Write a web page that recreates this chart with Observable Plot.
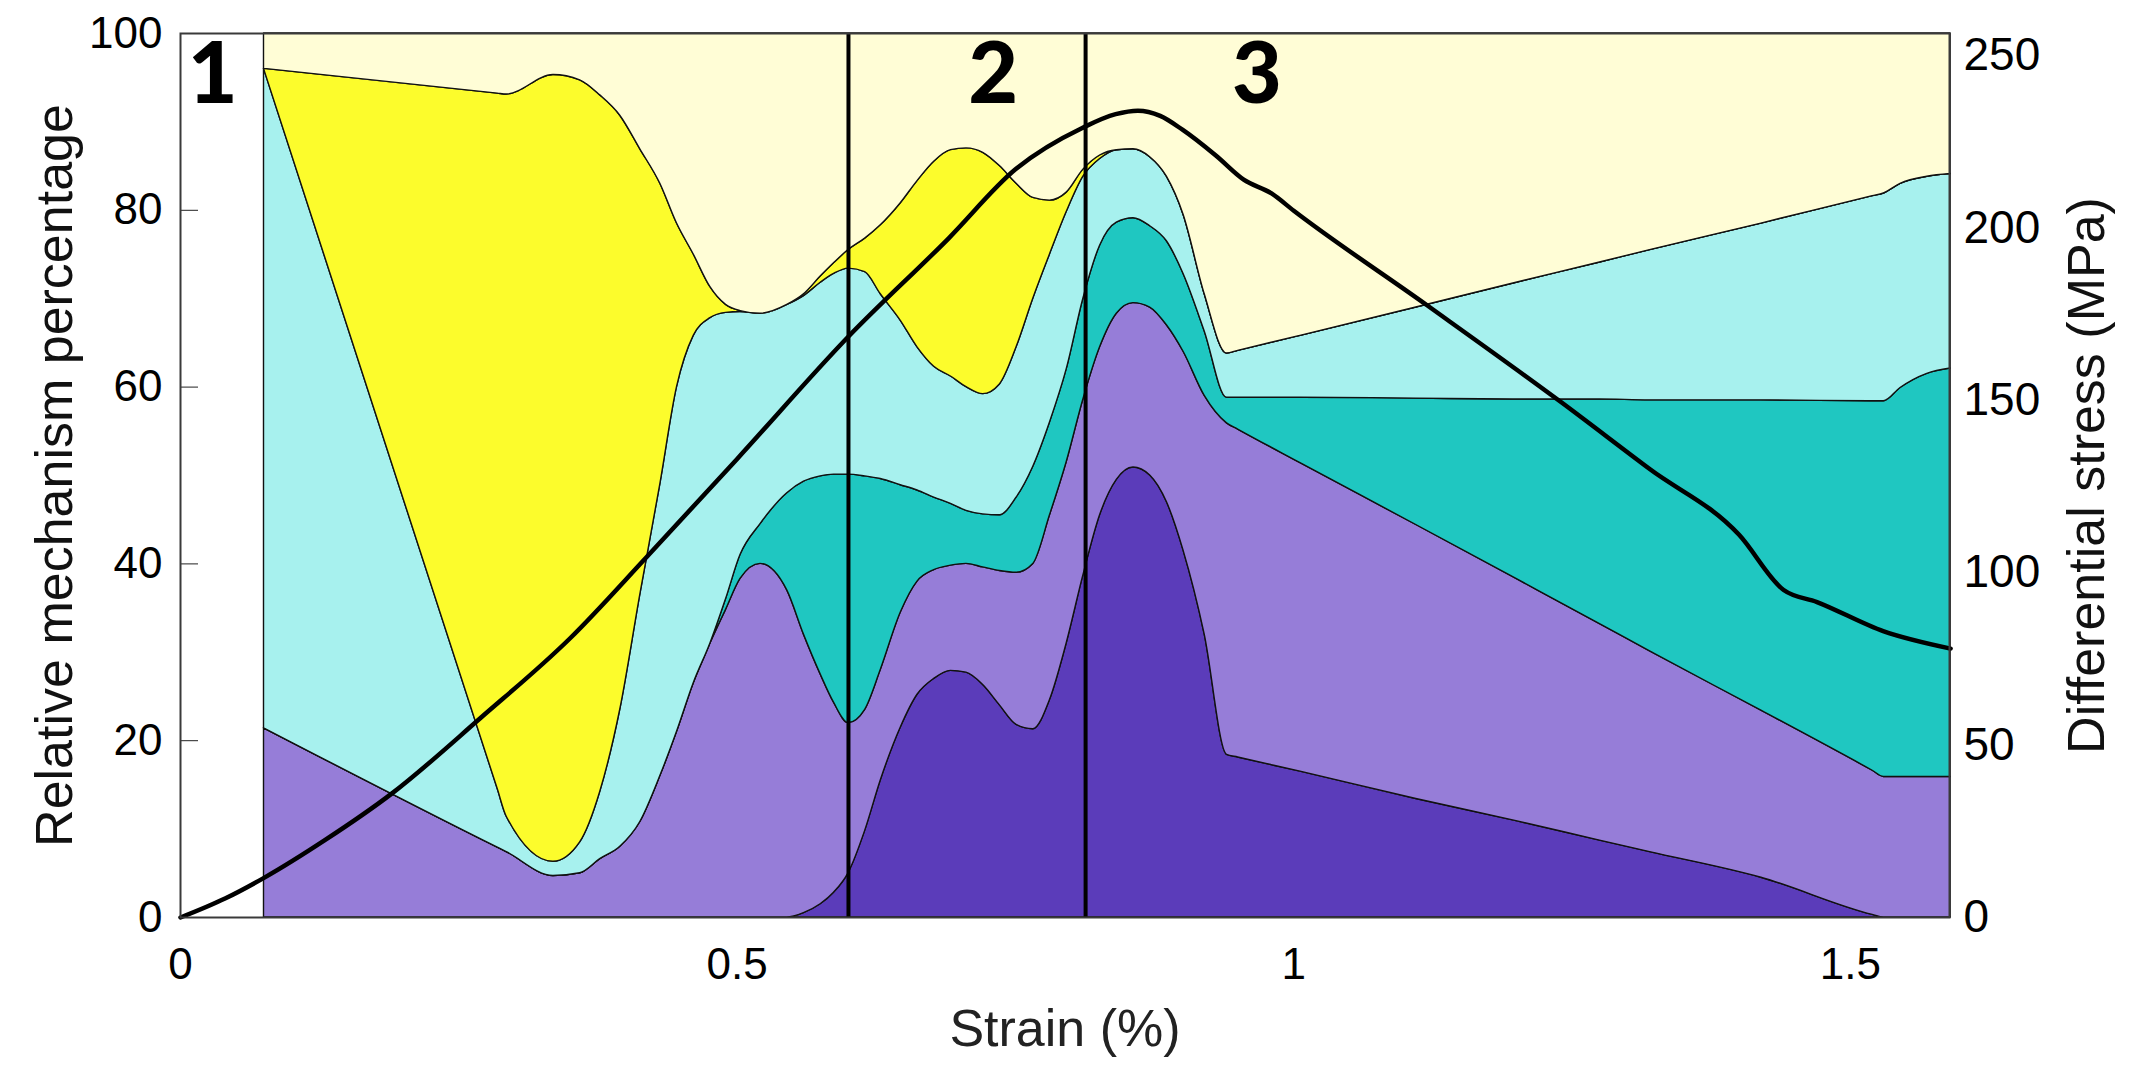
<!DOCTYPE html>
<html>
<head>
<meta charset="utf-8">
<script src="https://cdn.jsdelivr.net/npm/d3@7"></script>
<script src="https://cdn.jsdelivr.net/npm/@observablehq/plot@0.6"></script>
<style>
  html, body { margin: 0; padding: 0; background: #ffffff; }
  svg { display: block; }
</style>
</head>
<body>
<div id="chart"></div>
<script>
// ---- Data ----
const strain = [0.075, 0.285, 0.293, 0.335, 0.359, 0.377, 0.395, 0.413, 0.431, 0.446, 0.461, 0.476, 0.49, 0.503, 0.521, 0.545, 0.56, 0.575, 0.587, 0.6, 0.615, 0.629, 0.647, 0.662, 0.677, 0.692, 0.706, 0.721, 0.736, 0.751, 0.766, 0.781, 0.796, 0.811, 0.826, 0.841, 0.856, 0.871, 0.886, 0.901, 0.92, 0.94, 0.95, 1.006, 1.11, 1.2, 1.275, 1.32, 1.42, 1.52, 1.53, 1.545, 1.569, 1.59];

// cumulative upper boundary of each stacked layer (%), bottom to top
const topLayer1 = [0, 0, 0, 0, 0, 0, 0, 0, 0, 0, 0, 0, 0, 0, 0, 0, 0.5, 1.5, 2.8, 5.0, 9.8, 15.5, 21.5, 25.2, 27.0, 27.9, 27.7, 26.3, 24.0, 21.8, 21.3, 24.6, 31.0, 38.7, 45.5, 49.5, 50.9, 50.0, 47.0, 41.5, 32.0, 18.4, 18.1, 16.5, 13.4, 10.9, 8.7, 7.4, 4.5, 0.3, 0, 0, 0, 0];
const topLayer2 = [21.4, 7.9, 7.4, 4.7, 5.0, 6.6, 8.0, 10.8, 16.0, 21.0, 26.5, 31.0, 34.8, 38.3, 40.0, 37.0, 32.0, 27.5, 24.3, 22.0, 23.5, 28.0, 34.5, 38.0, 39.3, 39.8, 40.0, 39.6, 39.2, 39.0, 40.0, 45.5, 51.5, 58.6, 64.5, 68.3, 69.5, 69.0, 67.0, 64.0, 59.0, 55.9, 55.2, 51.4, 44.4, 38.3, 33.2, 30.1, 23.4, 16.6, 15.9, 15.9, 15.9, 15.9];
const topLayer3 = [21.4, 7.9, 7.4, 4.7, 5.0, 6.6, 8.0, 10.8, 16.0, 21.0, 26.5, 31.0, 36.0, 41.0, 44.5, 48.0, 49.3, 49.9, 50.1, 50.1, 49.9, 49.6, 48.9, 48.3, 47.5, 46.8, 46.0, 45.6, 45.5, 47.5, 51.0, 56.0, 62.0, 70.0, 76.0, 78.6, 79.1, 78.2, 76.5, 72.8, 66.3, 58.8, 58.8, 58.8, 58.7, 58.6, 58.6, 58.5, 58.5, 58.4, 58.4, 59.9, 61.5, 62.1];
const topLayer4 = [96.0, 14.5, 11.4, 6.3, 8.5, 14.2, 23.5, 36.5, 49.0, 60.0, 65.8, 67.8, 68.4, 68.5, 68.3, 69.3, 70.3, 71.8, 72.8, 73.4, 73.0, 70.5, 67.5, 64.5, 62.3, 61.2, 60.0, 59.2, 60.3, 64.5, 70.0, 75.0, 79.8, 83.8, 85.8, 86.8, 86.9, 86.0, 83.8, 79.5, 70.5, 63.8, 64.1, 65.8, 69.0, 71.8, 74.1, 75.5, 78.5, 81.6, 81.9, 83.0, 83.8, 84.1];
const topLayer5 = [96.0, 93.2, 93.1, 95.3, 94.7, 93.0, 90.7, 86.9, 83.0, 78.5, 75.0, 71.3, 69.3, 68.6, 68.3, 69.3, 70.5, 72.5, 74.0, 75.5, 76.8, 78.3, 80.8, 83.3, 85.5, 86.8, 87.0, 86.5, 85.0, 83.0, 81.4, 81.1, 82.0, 84.6, 86.2, 86.8, 86.9, 86.0, 83.8, 79.5, 70.5, 63.8, 64.1, 65.8, 69.0, 71.8, 74.1, 75.5, 78.5, 81.6, 81.9, 83.0, 83.8, 84.1];
const layerColors = ["#5b3cba", "#967dd8", "#1fc7c1", "#a7f1ee", "#fcfc2c", "#fffdd6"];

// differential stress curve
const stressStrain = [0, 0.04, 0.075, 0.13, 0.19, 0.27, 0.35, 0.42, 0.5, 0.6, 0.69, 0.75, 0.81, 0.84, 0.86, 0.88, 0.9, 0.93, 0.955, 0.98, 1.0, 1.12, 1.24, 1.32, 1.40, 1.44, 1.47, 1.53, 1.59];
const stressMPa = [0, 5.5, 11.5, 22.5, 36, 58, 81, 105, 133, 168.5, 197, 217, 229, 233, 234, 232.5, 228.5, 221, 214, 210, 205, 177.5, 149.5, 130, 111, 95, 91.5, 83, 78];

// stage boundaries and stage labels
const stageBoundaries = [0.6, 0.813];
const stageLabels = ["1", "2", "3"];
const stageLabelStrain = [0.029, 0.730, 0.967];
const stageLabelLevel = 95.2;

// axes
const xTicks = [0, 0.5, 1, 1.5];
const leftTicks = [0, 20, 40, 60, 80, 100];
const stressTicks = [0, 50, 100, 150, 200, 250];
const strainMax = 1.589;
const stressAxisMax = 256.4;
const xTitle = "Strain (%)";
const yTitle = "Relative mechanism percentage";
const y2Title = "Differential stress (MPa)";

// ---- Build ----
const k = 100 / stressAxisMax;
const bounds = [null, topLayer1, topLayer2, topLayer3, topLayer4, topLayer5, null];
const areaMarks = layerColors.map((c, i) => Plot.areaY(strain, {
  x: d => d,
  y1: (d, j) => bounds[i] ? bounds[i][j] : 0,
  y2: (d, j) => bounds[i + 1] ? bounds[i + 1][j] : 100,
  fill: c,
  stroke: "#111",
  strokeWidth: 1.4,
  curve: "monotone-x"
}));

const stress = stressStrain.map((s, i) => ({s, v: stressMPa[i]}));
const labels = stageLabels.map((t, i) => ({t, x: stageLabelStrain[i]}));

const font = "'Liberation Sans', Arial, Helvetica, sans-serif";

const chart = Plot.plot({
  width: 2148,
  height: 1075,
  marginLeft: 180,
  marginRight: 199,
  marginTop: 33,
  marginBottom: 158,
  style: {fontFamily: font, background: "#ffffff", color: "#000"},
  x: {domain: [0, strainMax]},
  y: {domain: [0, 100]},
  marks: [
    Plot.axisY({ticks: leftTicks, tickSize: -18, tickPadding: 36, fontSize: 44, label: null, stroke: "#222"}),
    Plot.axisX({ticks: xTicks, tickSize: -18, tickPadding: 48, fontSize: 44, label: null, tickFormat: d => String(d)}),
    ...areaMarks,
    Plot.ruleX(stageBoundaries, {stroke: "#000", strokeWidth: 4}),
    Plot.line(stress, {x: "s", y: d => d.v * k, stroke: "#000", strokeWidth: 4.5, curve: "monotone-x"}),
    Plot.axisY({anchor: "right", ticks: stressTicks.map(v => v * k), tickFormat: v => String(Math.round(v / k)), tickSize: 0, tickPadding: 14, fontSize: 46, label: null}),
    Plot.text(labels, {x: "x", y: () => stageLabelLevel, text: "t", fontSize: 86, fontWeight: 900, fontFamily: "Lato, 'DejaVu Sans', sans-serif", lineAnchor: "middle", fill: "#000"}),
    Plot.frame({stroke: "#3a3a3a", strokeWidth: 2}),
    Plot.text([xTitle], {text: d => d, frameAnchor: "bottom", textAnchor: "middle", dy: 112, fontSize: 52, lineAnchor: "middle", fill: "#222"}),
    Plot.text([yTitle], {text: d => d, frameAnchor: "left", textAnchor: "middle", dx: -125, rotate: -90, fontSize: 52, lineAnchor: "middle", fill: "#111"}),
    Plot.text([y2Title], {text: d => d, frameAnchor: "right", textAnchor: "middle", dx: 138, rotate: -90, fontSize: 52, lineAnchor: "middle", fill: "#111"})
  ]
});
document.getElementById("chart").appendChild(chart);
</script>
</body>
</html>
